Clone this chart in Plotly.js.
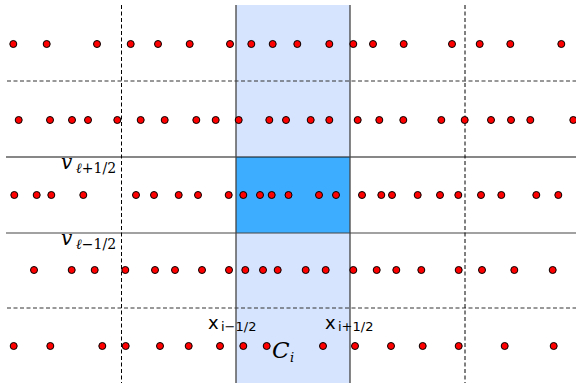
<!DOCTYPE html>
<html><head><meta charset="utf-8">
<script src="https://cdn.plot.ly/plotly-3.0.1.min.js"></script>
<style>html,body{margin:0;padding:0;background:#fff}</style>
</head><body>
<div id="chart" style="width:576px;height:383px"></div>
<script>
// Row levels (vertical position of each particle row)
const rowLevels = [44, 120, 195, 270, 346];
// Particle positions for each row
const row1X = [13.3, 46.7, 97, 130.7, 158, 189.7, 230, 251.3, 272.7, 297.3, 329.3, 353.3, 373, 403.7, 452, 479.7, 510.3, 561.3];
const row2X = [18.7, 50, 72, 88, 117.3, 140.7, 164.7, 196.3, 215.7, 238.7, 269.3, 286, 310.7, 329.3, 357.7, 379.3, 403.3, 441.3, 464.7, 491, 511, 530.3, 573.3];
const row3X = [14.3, 36.7, 51.3, 83.3, 136, 154, 178.7, 198, 228.7, 243.3, 260, 271.7, 288.5, 319, 336, 362, 381.3, 392, 417.7, 440, 458.3, 481, 501.3, 536.3, 558.3];
const row4X = [34, 71.7, 94.7, 125.3, 155, 175, 202, 229, 245.3, 263, 277.7, 305.7, 325.7, 353.3, 376.7, 396.3, 421.3, 458.7, 482, 514.3, 552.7];
const row5X = [13.7, 50.3, 102.3, 125.7, 160, 188.7, 220, 243.3, 266.7, 323, 355, 391, 422.7, 458.7, 504.7, 553.7];
const rowsX = [row1X, row2X, row3X, row4X, row5X];
// Grid: cell edges and level edges
const cellEdges = [236, 350];
const otherEdges = [121.5, 465];
const levelSolid = [157, 233];
const levelDashed = [81, 308];
// Labels: base symbol and subscript
const labelBase = ["<i>v</i>", "<i>v</i>", "x", "x", "<i>C</i>"];
const labelSub = ["<i>ℓ</i>+1/2", "<i>ℓ</i>−1/2", "i−1/2", "i+1/2", "<i>i</i>"];

const xs = [], ys = [];
rowsX.forEach((r, k) => r.forEach(x => { xs.push(x); ys.push(rowLevels[k]); }));

const shapes = [];
shapes.push({type:'rect', layer:'below', x0:cellEdges[0], x1:cellEdges[1], y0:5, y1:383, fillcolor:'#d6e4fd', line:{width:0}});
shapes.push({type:'rect', layer:'below', x0:cellEdges[0], x1:cellEdges[1], y0:levelSolid[0], y1:levelSolid[1], fillcolor:'#3daeff', line:{width:0}});
levelDashed.forEach(y => shapes.push({type:'line', layer:'below', x0:7, x1:576, y0:y, y1:y, line:{color:'#333', width:1, dash:'4px,2.5px'}}));
shapes.push({type:'line', layer:'below', x0:6, x1:576, y0:levelSolid[0], y1:levelSolid[0], line:{color:'#111', width:1.2}});
shapes.push({type:'line', layer:'below', x0:6, x1:576, y0:levelSolid[1], y1:levelSolid[1], line:{color:'#444', width:1.2}});
otherEdges.forEach(x => shapes.push({type:'line', layer:'below', x0:x, x1:x, y0:5, y1:383, line:{color:'#000', width:1, dash:'4px,2.5px'}}));
cellEdges.forEach(x => shapes.push({type:'line', layer:'below', x0:x, x1:x, y0:5, y1:383, line:{color:'#444', width:1.3}}));

const serif = 'DejaVu Serif, Liberation Serif, serif';
const sans = 'DejaVu Sans, sans-serif';
// [baseX, baseY, baseSize, subX, subY, subSize, family]
const labelPlace = [
  [60, 162, 20, 75, 168, 14, serif],
  [60, 238, 20, 75, 244, 14, serif],
  [207, 322, 18, 220, 326, 13, sans],
  [324, 322, 18, 337, 326, 13, sans],
  [271, 350, 23, 289, 357, 13, serif]
];
const annotations = [];
labelPlace.forEach((p, i) => {
  annotations.push({x:p[0], y:p[1], text:labelBase[i], font:{family:p[6], size:p[2], color:'#000'}});
  annotations.push({x:p[3], y:p[4], text:labelSub[i], font:{family:p[6], size:p[5], color:'#000'}});
});
annotations.forEach(a => Object.assign(a, {xref:'x', yref:'y', xanchor:'left', yanchor:'middle', showarrow:false, borderpad:0}));

Plotly.newPlot('chart', [{
  type:'scatter', mode:'markers', x:xs, y:ys, hoverinfo:'none',
  marker:{size:7, color:'#ff0000', line:{color:'#000', width:1}}
}], {
  width:576, height:383, margin:{l:0, r:0, t:0, b:0},
  paper_bgcolor:'#fff', plot_bgcolor:'#fff', showlegend:false,
  xaxis:{range:[0,576], visible:false, fixedrange:true},
  yaxis:{range:[383,0], visible:false, fixedrange:true},
  shapes:shapes, annotations:annotations
}, {staticPlot:true, displayModeBar:false});
</script>
</body></html>
